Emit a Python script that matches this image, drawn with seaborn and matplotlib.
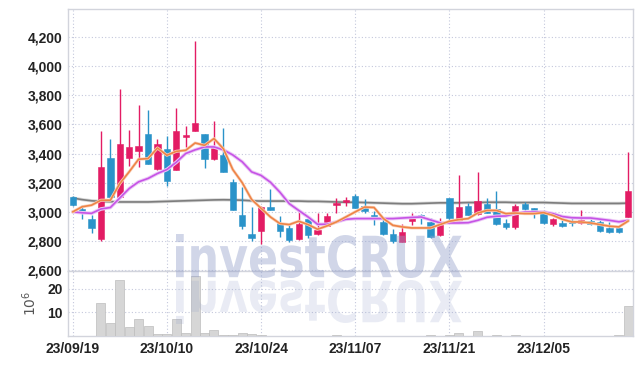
import numpy as np
import pandas as pd
import matplotlib
matplotlib.use('Agg')
import matplotlib.pyplot as plt
import matplotlib.patheffects as pe
import seaborn as sns
from matplotlib import font_manager
from matplotlib.font_manager import FontProperties
from matplotlib.textpath import TextPath
from matplotlib.patches import PathPatch
from matplotlib.transforms import Affine2D


'''
    DATA (read off the reference picture)
'''
dates = ['2023-09-19', '2023-09-20', '2023-09-21', '2023-09-22', '2023-09-25', '2023-09-26', '2023-09-27', '2023-10-04', '2023-10-05', '2023-10-06',
         '2023-10-10', '2023-10-11', '2023-10-12', '2023-10-13', '2023-10-16', '2023-10-17', '2023-10-18', '2023-10-19', '2023-10-20', '2023-10-23',
         '2023-10-24', '2023-10-25', '2023-10-26', '2023-10-27', '2023-10-30', '2023-10-31', '2023-11-01', '2023-11-02', '2023-11-03', '2023-11-06',
         '2023-11-07', '2023-11-08', '2023-11-09', '2023-11-10', '2023-11-13', '2023-11-14', '2023-11-15', '2023-11-16', '2023-11-17', '2023-11-20',
         '2023-11-21', '2023-11-22', '2023-11-23', '2023-11-24', '2023-11-27', '2023-11-28', '2023-11-29', '2023-11-30', '2023-12-01', '2023-12-04',
         '2023-12-05', '2023-12-06', '2023-12-07', '2023-12-08', '2023-12-11', '2023-12-12', '2023-12-13', '2023-12-14', '2023-12-15', '2023-12-18']

opens = [3100, 3020, 2950, 2815, 3370, 3100, 3370, 3420, 3535, 3295,
         3430, 3285, 3515, 3555, 3535, 3360, 3390, 3205, 2980, 2850,
         2870, 3035, 2925, 2890, 2815, 2950, 2848, 2905, 3045, 3068,
         3110, 3038, 2980, 2930, 2850, 2797, 2936, 2977, 2930, 2840,
         3095, 2936, 3040, 2983, 3053, 3017, 2924, 2897, 3053, 3026,
         2995, 2920, 2924, 2931, 2924, 2938, 2931, 2890, 2890, 2967]
closes = [3050, 2990, 2890, 3310, 3105, 3465, 3445, 3450, 3330, 3465,
          3210, 3555, 3520, 3610, 3365, 3445, 3270, 3015, 2900, 2820,
          3035, 3015, 2870, 2810, 2915, 2845, 2875, 2975, 3060, 3078,
          3030, 3005, 2965, 2848, 2800, 2863, 2963, 2972, 2830, 2908,
          2958, 3033, 2981, 3072, 2995, 2920, 2897, 3038, 3022, 3000,
          2927, 2949, 2900, 2927, 2942, 2920, 2870, 2863, 2863, 3142]
highs = [3110, 3045, 2980, 3555, 3500, 3845, 3560, 3735, 3700, 3500,
         3520, 3710, 3590, 4170, 3535, 3620, 3575, 3225, 3170, 3035,
         3040, 3160, 2975, 2920, 3005, 2950, 2990, 2990, 3095, 3105,
         3120, 3090, 3005, 2950, 2880, 2920, 2992, 2988, 2958, 2958,
         3095, 3255, 3062, 3275, 3098, 3144, 2954, 3056, 3066, 3030,
         3010, 2958, 2942, 2965, 3010, 2965, 2942, 2931, 2893, 3411]
lows = [3040, 2950, 2855, 2800, 3080, 3095, 3315, 3305, 3330, 3285,
        3180, 3285, 3445, 3555, 3300, 3355, 3270, 3015, 2880, 2800,
        2780, 3010, 2830, 2795, 2810, 2820, 2845, 2900, 2990, 3040,
        3025, 2990, 2910, 2840, 2790, 2795, 2910, 2920, 2818, 2838,
        2942, 2930, 2980, 2980, 2992, 2908, 2881, 2886, 3010, 2960,
        2920, 2902, 2897, 2902, 2920, 2913, 2860, 2856, 2856, 2965]

# volume in millions
volume = [0.2, 0.1, 0.1, 13.8, 5.4, 23.6, 3.6, 7.0, 4.4, 0.7,
          0.7, 7.0, 1.3, 25.3, 1.3, 2.5, 0.6, 0.3, 1.2, 0.7,
          0.3, 0.2, 0.2, 0.1, 0.1, 0.1, 0.05, 0.05, 0.3, 0.05,
          0.05, 0.05, 0.05, 0.05, 0.05, 0.05, 0.05, 0.05, 0.3, 0.05,
          0.3, 1.4, 0.1, 2.0, 0.1, 0.3, 0.1, 0.3, 0.05, 0.05,
          0.05, 0.05, 0.05, 0.05, 0.05, 0.05, 0.05, 0.05, 0.3, 12.7]

ma_short = [3000, 3035, 3046, 3080, 3080, 3194, 3275, 3361, 3365, 3438,
            3388, 3415, 3422, 3472, 3456, 3502, 3433, 3290, 3200, 3085,
            3025, 2965, 2920, 2913, 2936, 2913, 2881, 2904, 2931, 2965,
            3000, 3033, 3030, 2954, 2908, 2897, 2890, 2890, 2890, 2913,
            2936, 2947, 2954, 2992, 3010, 3010, 2988, 2992, 2988, 2988,
            2995, 2976, 2949, 2931, 2931, 2924, 2913, 2902, 2897, 2938]
ma_mid = [3000, 2994, 2990, 3020, 3030, 3095, 3160, 3206, 3229, 3263,
          3290, 3340, 3400, 3425, 3445, 3445, 3425, 3390, 3343, 3274,
          3250, 3203, 3135, 3056, 3010, 2965, 2915, 2915, 2931, 2949,
          2954, 2954, 2954, 2954, 2954, 2958, 2962, 2965, 2945, 2925,
          2924, 2924, 2926, 2942, 2963, 2970, 2972, 2988, 2998, 2999,
          2999, 2988, 2968, 2960, 2958, 2958, 2950, 2942, 2932, 2942]
ma_long = [3095, 3084, 3076, 3072, 3070, 3068, 3068, 3068, 3068, 3070,
           3072, 3074, 3076, 3078, 3080, 3082, 3083, 3082, 3080, 3076,
           3074, 3074, 3074, 3074, 3074, 3072, 3072, 3070, 3068, 3066,
           3066, 3064, 3062, 3060, 3058, 3056, 3056, 3058, 3060, 3062,
           3062, 3062, 3064, 3064, 3066, 3066, 3066, 3064, 3064, 3064,
           3064, 3062, 3060, 3058, 3058, 3058, 3058, 3058, 3058, 3060]

tick_idx = [0, 10, 20, 30, 40, 50]
price_ticks = [2600, 2800, 3000, 3200, 3400, 3600, 3800, 4000, 4200]
vol_ticks = [10, 20]


'''
    STYLE
'''
sns.set_style('white')
installed = {f.name for f in font_manager.fontManager.ttflist}
if 'Liberation Sans Narrow' in installed:
    tick_font, tick_size = 'Liberation Sans Narrow', 11
else:
    tick_font, tick_size = 'Liberation Sans', 10
plt.rcParams['font.family'] = [tick_font, 'DejaVu Sans']

df = pd.DataFrame({
    'date': pd.to_datetime(dates),
    'open': opens, 'high': highs, 'low': lows, 'close': closes,
    'volume': volume,
    'ma_short': ma_short, 'ma_mid': ma_mid, 'ma_long': ma_long,
})
df['i'] = np.arange(len(df))
df['up'] = df['close'] >= df['open']

RED = '#e31c64'
BLUE = '#2a93c9'
GRID = '#c4c8dc'


'''
    FIGURE
'''
W, H = 642, 366
fig = plt.figure(figsize=(W / 100, H / 100), dpi=100)
ax = fig.add_axes([68 / W, (H - 271) / H, 565 / W, 262 / H])
axv = fig.add_axes([68 / W, (H - 336) / H, 565 / W, 65 / H], sharex=ax)

# wicks + bodies
cols = np.where(df['up'], RED, BLUE)
ax.vlines(df['i'], df['low'], df['high'], colors=cols, lw=1.0, zorder=3)
body = np.maximum((df['close'] - df['open']).abs(), 12)
bottom = np.minimum(df['open'], df['close'])
bottom = np.where(body == 12, (df['open'] + df['close']) / 2 - 6, bottom)
ax.bar(df['i'], body, bottom=bottom, width=0.68, color=cols,
       edgecolor=cols, lw=0.4, zorder=4)

# moving averages
sns.lineplot(data=df, x='i', y='ma_long', ax=ax, color='#7d7d7d', lw=1.2, zorder=2,
             path_effects=[pe.Stroke(linewidth=2.4, foreground='#d8d8d8'), pe.Normal()])
sns.lineplot(data=df, x='i', y='ma_mid', ax=ax, color='#c653e6', lw=1.2, zorder=5,
             path_effects=[pe.Stroke(linewidth=2.6, foreground='#ecc9f6'), pe.Normal()])
sns.lineplot(data=df, x='i', y='ma_short', ax=ax, color='#ee8447', lw=1.2, zorder=6,
             path_effects=[pe.Stroke(linewidth=2.2, foreground='#f9d3bc'), pe.Normal()])

# volume
axv.bar(df['i'], df['volume'], width=0.96, color='#d6d6d6', edgecolor='#bdbdbd', lw=0.5, zorder=3)

ax.set_xlim(-0.5, len(df) - 0.5)
ax.set_ylim(2595, 4390)
axv.set_ylim(0, 27.5)

ax.set_yticks(price_ticks)
ax.set_yticklabels(['{:,.0f}'.format(v) for v in price_ticks])
axv.set_yticks(vol_ticks)
axv.set_xticks(tick_idx)
axv.set_xticklabels([df['date'][k].strftime('%y/%m/%d') for k in tick_idx])
ax.tick_params(axis='x', labelbottom=False)

for a in (ax, axv):
    a.set_xlabel('')
    a.set_ylabel('')
    a.grid(True, color=GRID, ls=(0, (1, 2)), lw=0.8)
    a.set_axisbelow(True)
    a.tick_params(length=0, pad=4, labelsize=tick_size, labelcolor='#222222')
    for s in a.spines.values():
        s.set_color('#d2d4dc')
        s.set_linewidth(1.0)
    for lab in a.get_xticklabels() + a.get_yticklabels():
        lab.set_fontweight('bold')

axv.set_ylabel(r'$10^6$', color='#555555', fontsize=10, family='DejaVu Sans', labelpad=6)

# watermark with reflection
fp = FontProperties(family='DejaVu Sans', weight='bold')
tp = TextPath((0, 0), 'investCRUX', size=1, prop=fp)
ext = tp.get_extents()
sx = 2.86 / ext.width
sy = 0.44 / ext.height
base = (H - 278) / 100
tr = Affine2D().translate(-ext.x0, -ext.y0).scale(sx, sy).translate(1.76, base) + fig.dpi_scale_trans
fig.add_artist(PathPatch(tp, transform=tr, facecolor='#929fca', alpha=0.42, lw=0, zorder=10))
tr2 = Affine2D().translate(-ext.x0, -ext.y0).scale(sx, -sy).translate(1.76, base - 0.02) + fig.dpi_scale_trans
fig.add_artist(PathPatch(tp, transform=tr2, facecolor='#929fca', alpha=0.2, lw=0, zorder=10))

fig.savefig('out.png', dpi=100)
